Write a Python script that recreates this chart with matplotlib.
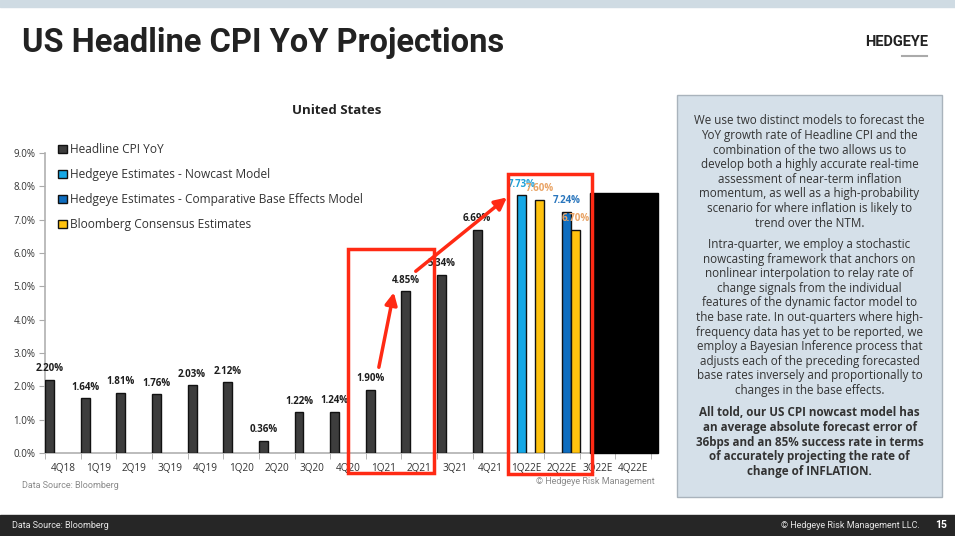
import numpy as np
import matplotlib
matplotlib.use('Agg')
import matplotlib.pyplot as plt
from matplotlib.patches import Rectangle
from matplotlib.lines import Line2D

plt.rcParams['font.family'] = ['Open Sans', 'DejaVu Sans']

# ---- data ----
quarters = ['4Q18', '1Q19', '2Q19', '3Q19', '4Q19', '1Q20', '2Q20', '3Q20', '4Q20',
            '1Q21', '2Q21', '3Q21', '4Q21', '1Q22E', '2Q22E', '3Q22E', '4Q22E']
nan = np.nan
headline = [2.20, 1.64, 1.81, 1.76, 2.03, 2.12, 0.36, 1.22, 1.24,
            1.90, 4.85, 5.34, 6.69, nan, nan, nan, nan]
nowcast = [nan] * 13 + [7.73, nan, nan, nan]
base_fx = [nan] * 14 + [7.24, nan, nan]
bloomberg = [nan] * 13 + [7.60, 6.70, nan, nan]

series_names = ['Headline CPI YoY', 'Hedgeye Estimates - Nowcast Model',
                'Hedgeye Estimates - Comparative Base Effects Model',
                'Bloomberg Consensus Estimates']
bar_colors = ['#3d3d3d', '#16a8e6', '#0e6dbf', '#ffc20e']
label_colors = ['#1e1e1e', '#1e9fd8', '#2a76bd', '#e9a466']

red = '#ff2a14'

fig = plt.figure(figsize=(9.55, 5.36), dpi=100)
W, H = 955.0, 536.0

def fx(px):
    return px / W

def fy(py):
    return 1 - py / H

# bands on top and bottom
fig.patches.append(Rectangle((0, fy(7)), 1, 7 / H, transform=fig.transFigure,
                             color='#cfdbe3', zorder=0))
fig.patches.append(Rectangle((0, 0), 1, 21 / H, transform=fig.transFigure,
                             color='#262626', zorder=0))

fig.text(fx(22), fy(52), 'US Headline CPI YoY Projections', fontsize=23.5,
         fontweight='bold', color='#222222', family='Roboto', va='baseline')
fig.text(fx(928), fy(42), 'HEDGEYE', fontsize=10.5, fontweight='bold',
         color='#222222', family='Roboto', ha='right', va='center')
fig.lines.append(Line2D([fx(902), fx(927)], [fy(56), fy(56)], color='#aaaaaa',
                        lw=1.5, transform=fig.transFigure))

fig.text(fx(12), fy(525.5), 'Data Source: Bloomberg', fontsize=6.5,
         color='#e6e6e6', va='center', family='Roboto')
fig.text(fx(920), fy(525.5), '\u00a9 Hedgeye Risk Management LLC.', fontsize=6.5,
         color='#e6e6e6', va='center', ha='right', family='Roboto')
fig.text(fx(947), fy(525.5), '15', fontsize=7.5, fontweight='bold',
         color='#ffffff', va='center', ha='right', family='Roboto')

fig.text(fx(22), fy(485), 'Data Source: Bloomberg', fontsize=6.5,
         color='#8a8a8a', va='center', family='Roboto')
fig.text(fx(655), fy(482), '\u00a9 Hedgeye Risk Management', fontsize=6.5,
         color='#8a8a8a', va='center', ha='right', family='Roboto')

fig.text(fx(337), fy(110), 'United States', fontsize=9.5, fontweight='bold',
         color='#222222', ha='center', va='center')

# ---- chart ----
ax = fig.add_axes([fx(45), fy(453), fx(651) - fx(45), (453 - 153) / H])
n = len(quarters)
x = np.arange(n)
width = 0.25
all_series = [headline, nowcast, base_fx, bloomberg]
for k, vals in enumerate(all_series):
    pos = x - 0.5 + (k + 0.5) * width
    ax.bar(pos, vals, width, color=bar_colors[k], edgecolor='#111111',
           linewidth=1.0, label=series_names[k], zorder=3)
    for p, v in zip(pos, vals):
        if np.isnan(v):
            continue
        ax.annotate('%.2f%%' % v, (p, v), xytext=(0, 4), textcoords='offset points',
                    ha='center', va='bottom', fontsize=7, fontweight='bold',
                    color=label_colors[k], zorder=5)

ax.set_xlim(-0.5, n - 0.5)
ax.set_ylim(0, 9)
ax.set_yticks(np.arange(0, 9.5, 1.0))
ax.set_yticklabels(['%.1f%%' % t for t in np.arange(0, 9.5, 1.0)])
ax.set_xticks(x)
ax.set_xticklabels(quarters)
ax.set_xticks(np.arange(-0.5, n, 1.0), minor=True)
ax.tick_params(axis='x', which='major', length=0, pad=7, labelsize=7.2, labelcolor='#333333')
ax.tick_params(axis='x', which='minor', length=4, color='#aaaaaa', direction='out')
ax.tick_params(axis='y', length=4, color='#aaaaaa', labelsize=7, labelcolor='#333333', pad=3)
for s in ['top', 'right']:
    ax.spines[s].set_visible(False)
for s in ['left', 'bottom']:
    ax.spines[s].set_color('#b0b0b0')
    ax.spines[s].set_linewidth(1.2)

leg = ax.legend(loc='upper left', bbox_to_anchor=(0.022, 1.032), frameon=False,
                fontsize=8.6, handlelength=0.7, handleheight=0.7, handletextpad=0.3,
                labelspacing=1.0, borderpad=0, borderaxespad=0)
for t in leg.get_texts():
    t.set_color('#333333')

# black cover over the last two quarters
ax.add_patch(Rectangle((14.78, 0), 1.91, 7.8, color='black', zorder=6, clip_on=False))

# red highlight boxes and arrows
ax.add_patch(Rectangle((8.01, -0.6), 2.39, 6.72, fill=False, edgecolor=red,
                       lw=2.5, zorder=7, clip_on=False))
ax.add_patch(Rectangle((12.48, -0.63), 2.36, 9.0, fill=False, edgecolor=red,
                       lw=2.5, zorder=7, clip_on=False))
ax.annotate('', xy=(9.3, 4.9), xytext=(8.85, 2.49),
            arrowprops=dict(arrowstyle='-|>', color=red, lw=2.5, mutation_scale=18),
            zorder=8, annotation_clip=False)
ax.annotate('', xy=(12.52, 7.72), xytext=(9.84, 5.4),
            arrowprops=dict(arrowstyle='-|>', color=red, lw=2.5, mutation_scale=18),
            zorder=8, annotation_clip=False)

# ---- side text box ----
fig.patches.append(Rectangle((fx(677), fy(497)), fx(942) - fx(677), (497 - 95) / H,
                             transform=fig.transFigure, facecolor='#d5e0e9',
                             edgecolor='#a9b3bc', lw=1.0, zorder=1))

para1 = ('We use two distinct models to forecast the\n'
         'YoY growth rate of Headline CPI and the\n'
         'combination of the two allows us to\n'
         'develop both a highly accurate real-time\n'
         'assessment of near-term inflation\n'
         'momentum, as well as a high-probability\n'
         'scenario for where inflation is likely to\n'
         'trend over the NTM.')
para2 = ('Intra-quarter, we employ a stochastic\n'
         'nowcasting framework that anchors on\n'
         'nonlinear interpolation to relay rate of\n'
         'change signals from the individual\n'
         'features of the dynamic factor model to\n'
         'the base rate. In out-quarters where high-\n'
         'frequency data has yet to be reported, we\n'
         'employ a Bayesian Inference process that\n'
         'adjusts each of the preceding forecasted\n'
         'base rates inversely and proportionally to\n'
         'changes in the base effects.')
para3 = ('All told, our US CPI nowcast model has\n'
         'an average absolute forecast error of\n'
         '36bps and an 85% success rate in terms\n'
         'of accurately projecting the rate of\n'
         'change of INFLATION.')

for txt, top, wt in [(para1, 114.5, 'normal'), (para2, 238, 'normal'), (para3, 406.5, 'bold')]:
    fig.text(fx(809.5), fy(top), txt, fontsize=8.4, color='#333333', ha='center',
             va='top', linespacing=1.16, fontweight=wt, zorder=2)

fig.savefig('out.png', dpi=100)
